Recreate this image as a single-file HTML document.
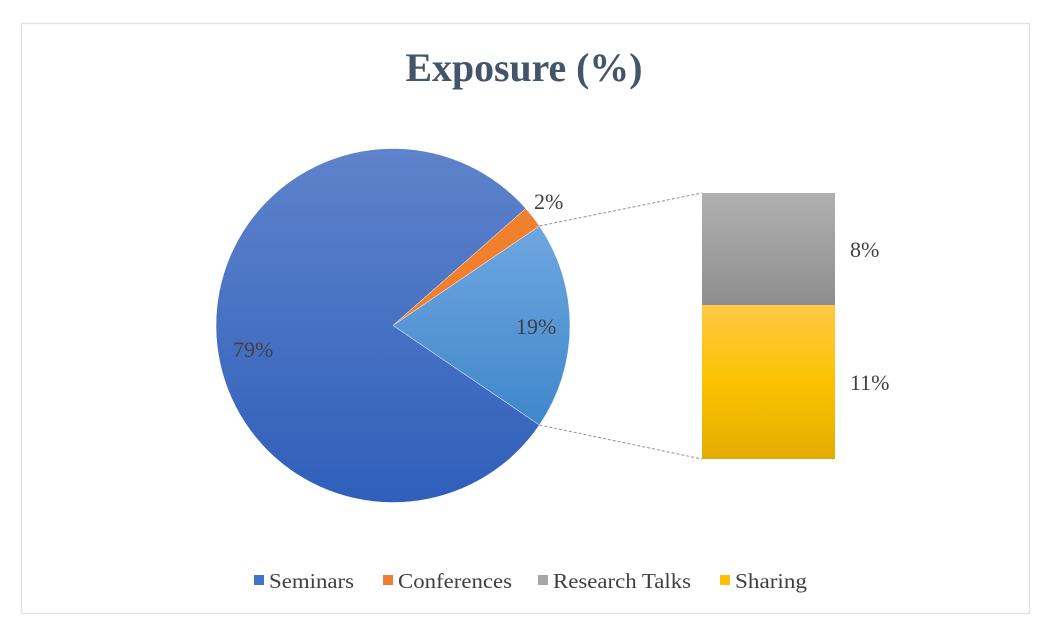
<!DOCTYPE html>
<html><head><meta charset="utf-8"><style>
body{margin:0;background:#fff;}
svg{display:block;font-family:"Liberation Serif",serif;}
</style></head><body>
<svg width="1047" height="636" viewBox="0 0 1047 636">
<defs>
<linearGradient id="g1" x1="0" y1="0" x2="0" y2="1"><stop offset="0" stop-color="#5f83cb"/><stop offset="1" stop-color="#2f5fbb"/></linearGradient>
<linearGradient id="g2" x1="0" y1="0" x2="0" y2="1"><stop offset="0" stop-color="#6fa6e0"/><stop offset="1" stop-color="#3f87cb"/></linearGradient>
<linearGradient id="g3" x1="0" y1="0" x2="0" y2="1"><stop offset="0" stop-color="#b0b0b0"/><stop offset="1" stop-color="#8e8e8e"/></linearGradient>
<linearGradient id="g4" x1="0" y1="0" x2="0" y2="1"><stop offset="0" stop-color="#ffc845"/><stop offset="0.5" stop-color="#fcc200"/><stop offset="1" stop-color="#e3ad00"/></linearGradient>
</defs>
<rect x="21.5" y="23.5" width="1008" height="590" fill="#fff" stroke="#dde3eb" stroke-width="1.5"/>
<text x="524" y="81" text-anchor="middle" font-size="40" font-weight="bold" fill="#44546a" textLength="237" lengthAdjust="spacingAndGlyphs">Exposure (%)</text>
<path d="M393,325.5 L525.8,208.5 A177,177 0 1 0 539.4,425 Z" fill="url(#g1)" stroke="#fff" stroke-width="0.5"/>
<path d="M393,325.5 L539.4,226 A177,177 0 0 0 525.8,208.5 Z" fill="#f07f2e" stroke="#fff" stroke-width="0.5"/>
<path d="M393,325.5 L539.4,425 A177,177 0 0 0 539.4,226 Z" fill="url(#g2)" stroke="#fff" stroke-width="0.5"/>
<line x1="539.4" y1="226" x2="702" y2="193" stroke="#8a94a6" stroke-dasharray="3,2"/>
<line x1="539.4" y1="425" x2="702" y2="459" stroke="#8a94a6" stroke-dasharray="3,2"/>
<rect x="702" y="193" width="133" height="112" fill="url(#g3)"/>
<rect x="702" y="305" width="133" height="154" fill="url(#g4)"/>
<g font-size="22" fill="#404040">
<text x="233" y="357">79%</text>
<text x="516" y="334">19%</text>
<text x="534" y="209">2%</text>
<text x="850" y="257">8%</text>
<text x="850" y="390">11%</text>
</g>
<g font-size="21" fill="#404040">
<rect x="254" y="575" width="10" height="10" fill="#4472c4"/><text x="269" y="588" textLength="85" lengthAdjust="spacingAndGlyphs">Seminars</text>
<rect x="383" y="575" width="10" height="10" fill="#ed7d31"/><text x="398" y="588" textLength="114" lengthAdjust="spacingAndGlyphs">Conferences</text>
<rect x="538" y="575" width="10" height="10" fill="#a5a5a5"/><text x="553" y="588" textLength="138" lengthAdjust="spacingAndGlyphs">Research Talks</text>
<rect x="720" y="575" width="10" height="10" fill="#ffc000"/><text x="735" y="588" textLength="72" lengthAdjust="spacingAndGlyphs">Sharing</text>
</g>
</svg>
</body></html>
